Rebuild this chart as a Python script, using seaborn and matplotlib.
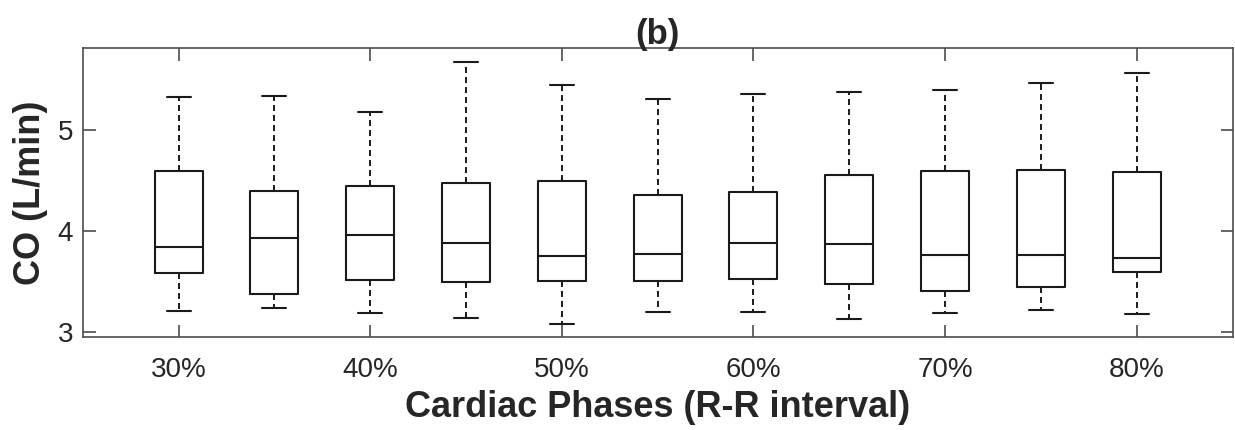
import matplotlib
matplotlib.use("Agg")
import matplotlib.pyplot as plt
import seaborn as sns
import pandas as pd

# Data: five-number summaries
phases = ["30%", "35%", "40%", "45%", "50%", "55%", "60%", "65%", "70%", "75%", "80%"]
whisker_low = [3.21, 3.24, 3.19, 3.14, 3.08, 3.20, 3.20, 3.13, 3.19, 3.22, 3.18]
q1 = [3.58, 3.38, 3.52, 3.50, 3.51, 3.51, 3.53, 3.48, 3.41, 3.45, 3.59]
median = [3.84, 3.93, 3.96, 3.88, 3.75, 3.77, 3.88, 3.87, 3.76, 3.76, 3.73]
q3 = [4.59, 4.40, 4.45, 4.48, 4.50, 4.36, 4.39, 4.55, 4.59, 4.60, 4.58]
whisker_high = [5.33, 5.34, 5.18, 5.67, 5.45, 5.31, 5.36, 5.38, 5.40, 5.47, 5.56]
tick_labels = ["30%", "40%", "50%", "60%", "70%", "80%"]

rows = []
for i, p in enumerate(phases):
    for v in (whisker_low[i], q1[i], median[i], q3[i], whisker_high[i]):
        rows.append({"phase": p, "CO": v})
df = pd.DataFrame(rows)

sns.set_theme(style="ticks")
plt.rcParams["font.family"] = ["Liberation Sans", "DejaVu Sans"]
plt.rcParams["lines.scale_dashes"] = False

fig = plt.figure(figsize=(12.35, 4.3), dpi=100)
ax = fig.add_axes([0.067, 0.216, 0.931, 0.672])

sns.boxplot(
    data=df, x="phase", y="CO", order=phases, ax=ax,
    width=0.5, fill=False, color="black", linecolor="black", linewidth=1.5,
    whis=(0, 100), showfliers=False,
    whiskerprops={"linestyle": (0, (4.3, 2.9)), "linewidth": 1.4, "color": "#1a1a1a"},
    capprops={"linewidth": 1.5, "color": "#1a1a1a"},
    medianprops={"linewidth": 1.5, "color": "#1a1a1a"},
    boxprops={"linewidth": 1.5, "color": "#1a1a1a"},
)

ax.set_xlim(-1, len(phases))
ax.set_ylim(2.95, 5.81)
ax.set_xticks([phases.index(t) for t in tick_labels])
ax.set_xticklabels(tick_labels)
ax.set_yticks([3, 4, 5])

for s in ax.spines.values():
    s.set_visible(True)
    s.set_color("#4d4d4d")
    s.set_linewidth(1.2)

ax.tick_params(axis="x", direction="in", top=True, bottom=True, length=9, width=1.2,
               color="#4d4d4d", labelsize=20, pad=14, labelcolor="#262626")
ax.tick_params(axis="y", direction="in", left=True, right=True, length=9, width=1.2,
               color="#4d4d4d", labelsize=20, pad=7, labelcolor="#262626")

ax.set_xlabel("Cardiac Phases (R-R interval)", fontsize=26, fontweight="bold",
              color="#262626", labelpad=5)
ax.set_ylabel("CO (L/min)", fontsize=26, fontweight="bold", color="#262626", labelpad=7)
ax.set_title("(b)", fontsize=25, fontweight="bold", color="#262626", pad=3)

fig.savefig("out.png", dpi=100)
